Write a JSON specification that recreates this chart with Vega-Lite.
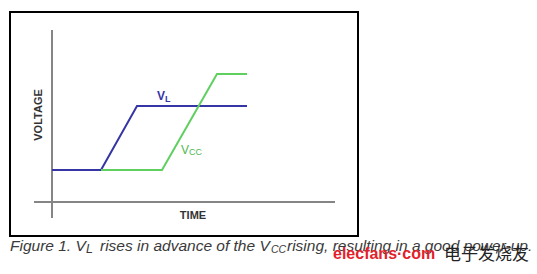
{
  "$schema": "https://vega.github.io/schema/vega-lite/v6.json",
  "width": 348,
  "height": 224,
  "autosize": {"type": "none"},
  "padding": {"left": 10, "top": 12, "right": 179, "bottom": 38},
  "background": "white",
  "config": {"view": {"stroke": "black", "strokeWidth": 2}},
  "datasets": {
    "axes": [
      {"t": -1.8, "t2": 28.3, "v": 0, "v2": 0},
      {"t": 0, "t2": 0, "v": 5.375, "v2": -0.5}
    ],
    "signals": [
      {"series": "VL", "t": 0, "v": 1},
      {"series": "VL", "t": 4.9, "v": 1},
      {"series": "VL", "t": 8.5, "v": 3},
      {"series": "VL", "t": 19.5, "v": 3},
      {"series": "VCC", "t": 4.9, "v": 1},
      {"series": "VCC", "t": 11, "v": 1},
      {"series": "VCC", "t": 16.5, "v": 4},
      {"series": "VCC", "t": 19.5, "v": 4}
    ],
    "labels": [
      {"kind": "ytitle", "t": -1.3, "v": 2.72, "text": "VOLTAGE"},
      {"kind": "xtitle", "t": 14.1, "v": -0.44, "text": "TIME"},
      {"kind": "vlMain", "t": 10.5, "v": 3.19, "text": "V"},
      {"kind": "vlSub", "t": 11.3, "v": 3.13, "text": "L"},
      {"kind": "vccMain", "t": 12.9, "v": 1.5, "text": "V"},
      {"kind": "vccSub", "t": 13.7, "v": 1.47, "text": "CC"},
      {"kind": "cap", "t": -4.2, "v": -1.53, "text": "Figure 1. V"},
      {"kind": "capSub", "t": 3.4, "v": -1.6, "text": "L"},
      {"kind": "cap", "t": 4.8, "v": -1.53, "text": "rises in advance of the V"},
      {"kind": "capSub2", "t": 21.9, "v": -1.6, "text": "CC"},
      {"kind": "cap", "t": 23.5, "v": -1.53, "text": "rising, resulting in a good power-up."},
      {"kind": "wm", "t": 28.1, "v": -1.78, "text": "elecfans·com"},
      {"kind": "wmcn", "t": 39.2, "v": -1.8, "text": "电子发烧友"}
    ]
  },
  "encoding": {
    "x": {"field": "t", "type": "quantitative", "scale": {"domain": [-4.2, 30.6], "nice": false, "zero": false}, "axis": null},
    "y": {"field": "v", "type": "quantitative", "scale": {"domain": [-1.0625, 5.9375], "nice": false, "zero": false}, "axis": null}
  },
  "layer": [
    {
      "data": {"name": "axes"},
      "mark": {"type": "rule", "color": "#858585", "strokeWidth": 2},
      "encoding": {"x2": {"field": "t2"}, "y2": {"field": "v2"}}
    },
    {
      "data": {"name": "signals"},
      "mark": {"type": "line", "strokeWidth": 2},
      "encoding": {
        "color": {"field": "series", "type": "nominal", "scale": {"domain": ["VL", "VCC"], "range": ["#3535a6", "#5fd05f"]}, "legend": null},
        "detail": {"field": "series"}
      }
    },
    {
      "data": {"name": "labels"},
      "transform": [{"filter": "datum.kind === 'ytitle'"}],
      "mark": {"type": "text", "angle": 270, "align": "center", "baseline": "middle", "font": "Liberation Sans", "fontWeight": "bold", "fontSize": 11, "color": "#333333", "clip": false},
      "encoding": {"text": {"field": "text"}}
    },
    {
      "data": {"name": "labels"},
      "transform": [{"filter": "datum.kind === 'xtitle'"}],
      "mark": {"type": "text", "align": "center", "baseline": "middle", "font": "Liberation Sans", "fontWeight": "bold", "fontSize": 11, "color": "#333333", "clip": false},
      "encoding": {"text": {"field": "text"}}
    },
    {
      "data": {"name": "labels"},
      "transform": [{"filter": "datum.kind === 'vlMain'"}],
      "mark": {"type": "text", "align": "left", "baseline": "alphabetic", "font": "Liberation Sans", "fontWeight": "bold", "fontSize": 12, "color": "#3535a6", "clip": false},
      "encoding": {"text": {"field": "text"}}
    },
    {
      "data": {"name": "labels"},
      "transform": [{"filter": "datum.kind === 'vlSub'"}],
      "mark": {"type": "text", "align": "left", "baseline": "alphabetic", "font": "Liberation Sans", "fontWeight": "bold", "fontSize": 9, "color": "#3535a6", "clip": false},
      "encoding": {"text": {"field": "text"}}
    },
    {
      "data": {"name": "labels"},
      "transform": [{"filter": "datum.kind === 'vccMain'"}],
      "mark": {"type": "text", "align": "left", "baseline": "alphabetic", "font": "Liberation Sans", "fontSize": 12, "color": "#4fb84f", "clip": false},
      "encoding": {"text": {"field": "text"}}
    },
    {
      "data": {"name": "labels"},
      "transform": [{"filter": "datum.kind === 'vccSub'"}],
      "mark": {"type": "text", "align": "left", "baseline": "alphabetic", "font": "Liberation Sans", "fontSize": 9, "color": "#4fb84f", "clip": false},
      "encoding": {"text": {"field": "text"}}
    },
    {
      "data": {"name": "labels"},
      "transform": [{"filter": "datum.kind === 'cap'"}],
      "mark": {"type": "text", "align": "left", "baseline": "alphabetic", "font": "Liberation Sans", "fontStyle": "italic", "fontSize": 15.5, "color": "#3a3a3a", "clip": false},
      "encoding": {"text": {"field": "text"}}
    },
    {
      "data": {"name": "labels"},
      "transform": [{"filter": "datum.kind === 'capSub'"}],
      "mark": {"type": "text", "align": "left", "baseline": "alphabetic", "font": "Liberation Sans", "fontStyle": "italic", "fontSize": 12.5, "color": "#3a3a3a", "clip": false},
      "encoding": {"text": {"field": "text"}}
    },
    {
      "data": {"name": "labels"},
      "transform": [{"filter": "datum.kind === 'capSub2'"}],
      "mark": {"type": "text", "align": "left", "baseline": "alphabetic", "font": "Liberation Sans", "fontStyle": "italic", "fontSize": 10.5, "color": "#3a3a3a", "clip": false},
      "encoding": {"text": {"field": "text"}}
    },
    {
      "data": {"name": "labels"},
      "transform": [{"filter": "datum.kind === 'wm'"}],
      "mark": {"type": "text", "align": "left", "baseline": "alphabetic", "font": "Liberation Sans", "fontWeight": "bold", "fontSize": 16, "color": "#e3212b", "clip": false},
      "encoding": {"text": {"field": "text"}}
    },
    {
      "data": {"name": "labels"},
      "transform": [{"filter": "datum.kind === 'wmcn'"}],
      "mark": {"type": "text", "align": "left", "baseline": "alphabetic", "font": "Noto Sans CJK SC", "fontSize": 17, "color": "#222222", "clip": false},
      "encoding": {"text": {"field": "text"}}
    }
  ]
}
